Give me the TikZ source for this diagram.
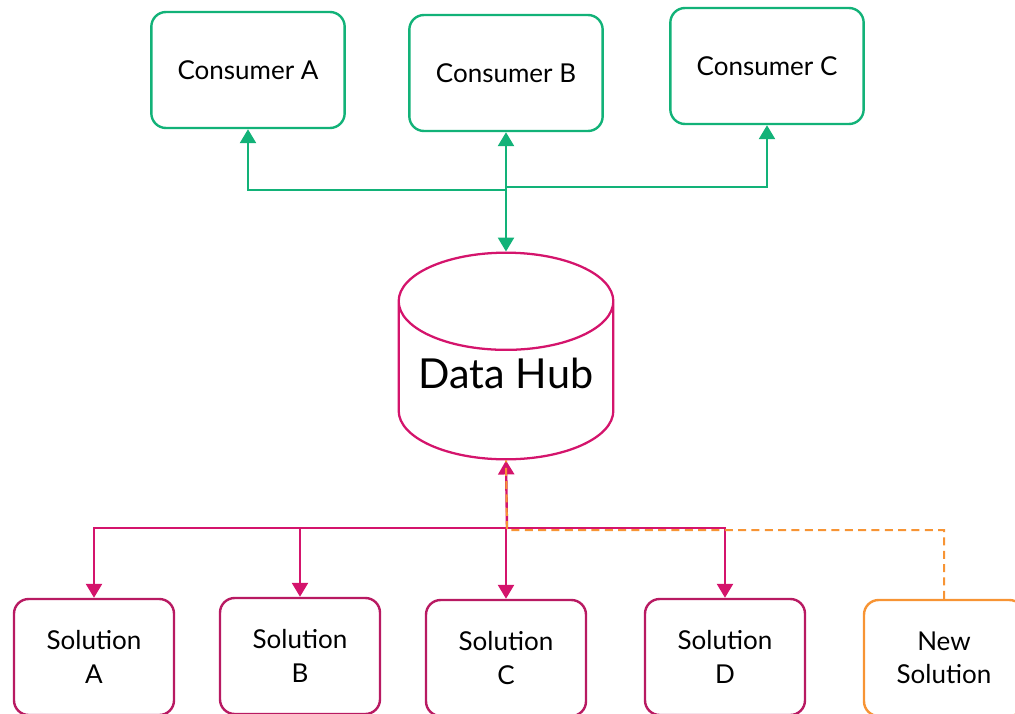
\documentclass[tikz,border=0pt]{standalone}
\usepackage{fontspec}
\setmainfont{Lato}
\usepackage{tikz}
\usetikzlibrary{arrows.meta,shapes.geometric,calc}

\definecolor{hubgreen}{RGB}{18,178,120}
\definecolor{hubpink}{RGB}{212,20,108}
\definecolor{solpink}{RGB}{184,26,98}
\definecolor{neworange}{RGB}{247,148,52}

\begin{document}
\begin{tikzpicture}[
  x=0.75pt, y=-0.75pt,
  box/.style={
      draw,
      rounded corners=11pt,
      line width=1.8pt,
      minimum width=145pt,
      minimum height=87pt,
      align=center,
      font=\fontsize{19.5}{25}\selectfont
    },
  consumer/.style={
      box,
      draw=hubgreen
    },
  solution/.style={
      box,
      minimum width=120pt,
      draw=solpink
    },
  hub/.style={
      draw=hubpink,
      line width=1.7pt,
      cylinder,
      shape border rotate=90,
      aspect=0.53,
      minimum width=161pt,
      minimum height=155pt,
      anchor=shape center,
      font=\fontsize{31}{36}\selectfont
    },
  link/.style={
      line width=1.8pt,
      arrows={-Triangle[length=10.5pt,width=12pt]}
    }]

  \useasboundingbox (0,0) rectangle (1015,714);

  \node [consumer] (ca) at (248,70) {Consumer A};
  \node [consumer] (cb) at (506,73) {Consumer B};
  \node [consumer] (cc) at (767,66) {Consumer C};

  \node [hub] (hub) at (506,356) {\raisebox{11pt}[\height][\depth]{Data Hub}};

  \node [solution] (sa) at (94,657) {Solution\\A};
  \node [solution] (sb) at (300,656) {Solution\\B};
  \node [solution] (sc) at (506,658) {Solution\\C};
  \node [solution] (sd) at (725,657) {Solution\\D};
  \node [solution, draw=neworange] (sn) at (944,658) {New\\Solution};

  % consumers read from the hub
  \coordinate (gleft) at (507,190);
  \coordinate (gright) at (507,187);
  \draw [link, draw=hubgreen, arrows={Triangle[length=10.5pt,width=12pt]-Triangle[length=10.5pt,width=12pt]}] (cb.south) -- (hub.north);
  \draw [link, draw=hubgreen] (gleft) -| (ca.south);
  \draw [link, draw=hubgreen] (gright) -| (cc.south);

  % solutions feed the hub
  \coordinate (mjoin) at (507,528);
  \draw [link, draw=hubpink] (mjoin) -- (hub.south);
  \draw [link, draw=hubpink] (mjoin) -| (sa.north);
  \draw [link, draw=hubpink] (mjoin) -| (sb.north);
  \draw [link, draw=hubpink] (mjoin) -| (sc.north);
  \draw [link, draw=hubpink] (mjoin) -| (sd.north);

  \coordinate (ojoin) at (507,530);
  \draw [line width=1.5pt, draw=neworange, dash pattern=on 6pt off 4pt] (sn.north) |- (ojoin) -- (hub.south);
\end{tikzpicture}
\end{document}
